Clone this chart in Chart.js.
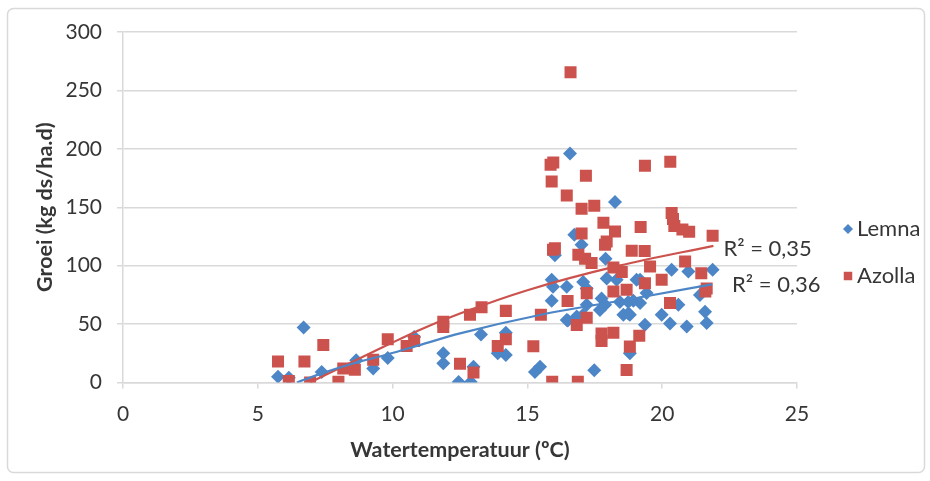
<!DOCTYPE html>
<html>
<head>
<meta charset="utf-8">
<script src="https://cdn.jsdelivr.net/npm/chart.js@4.4.0/dist/chart.umd.min.js"></script>
<style>
  html, body { margin: 0; padding: 0; background: #ffffff; }
  #wrap { width: 930px; height: 481px; position: relative; }
</style>
</head>
<body>
<div id="wrap"><canvas id="groeiChart"></canvas></div>
<script>
// Lemna measurements (water temperature in ºC, growth in kg ds/ha.d)
const lemnaTemp = [
  5.75, 6.15, 6.7, 7.37, 8.65, 9.28, 9.82, 10.8, 11.88, 11.88,
  12.45, 12.9, 13.0, 13.28, 13.9, 14.2, 14.2, 15.28, 15.47, 17.48,
  15.9, 15.95, 15.9, 16.46, 16.5, 17.07, 17.2, 17.9, 17.94, 18.31,
  19.05, 17.2, 17.75, 17.88, 17.69, 18.43, 18.74, 18.56, 18.74, 16.46,
  17.07, 20.35, 20.97, 21.87, 19.18, 19.42, 18.93, 19.18, 20.6, 19.98,
  19.36, 20.29, 20.91, 21.59, 21.65, 21.4, 18.8, 18.8, 16.58, 18.25,
  16.74, 17.01, 16.02, 16.83
];
const lemnaGroei = [
  5, 4, 47, 9, 19, 12, 21, 39, 25, 16.5,
  0.5, 0.5, 13.5, 41, 25, 23.5, 42.5, 9, 13.5, 10.5,
  88, 82, 70, 82, 53, 86, 80.5, 106, 89, 88,
  88, 66.5, 72, 66.5, 62, 69, 69, 58, 59, 53.5,
  58, 96.5, 95, 96.5, 88, 76.5, 70, 68, 66.5, 58,
  49.5, 50.5, 48, 60.5, 51, 75, 58, 25, 196, 154.5,
  126.5, 118, 109, 56.5
];

// Azolla measurements
const azollaTemp = [
  5.75, 6.15, 6.73, 6.94, 7.43, 7.99, 8.17, 8.6, 9.28, 9.82,
  10.52, 10.8, 11.88, 11.88, 12.5, 12.87, 13.0, 13.3, 13.9, 14.2,
  14.2, 15.22, 15.5, 15.92, 16.87, 15.95, 16.02, 16.89, 17.14, 17.38,
  16.49, 17.2, 17.2, 16.83, 17.75, 18.19, 17.75, 18.8, 19.15, 18.68,
  18.19, 18.5, 18.19, 18.68, 18.87, 19.35, 19.55, 19.36, 19.98, 20.29,
  20.85, 21.45, 21.65, 21.6, 16.6, 15.96, 15.86, 15.9, 17.17, 19.36,
  20.3, 16.46, 17.01, 17.48, 17.82, 19.2, 20.35, 20.4, 20.45, 20.75,
  21.0, 21.87, 17.01, 18.25, 17.94, 17.88
];
const azollaGroei = [
  18, 1.3, 18, 0, 32, 0.7, 12, 11, 19.5, 37,
  31.3, 35.5, 52, 47.5, 16, 58, 8.5, 64.5, 31.3, 37,
  61.3, 31, 58, 0.7, 0.7, 113.6, 115, 109.3, 106, 102.2,
  69.8, 76.5, 55.5, 49.3, 42, 42.5, 35.5, 30.7, 40, 10.7,
  98.5, 94.6, 77.8, 79.3, 112.8, 112.5, 99.3, 85, 87.9, 68,
  103.6, 93.6, 80.5, 77.8, 265.5, 188.4, 186.4, 172, 177, 185.5,
  189, 160, 148.7, 151.3, 136.8, 133, 145, 140, 134, 131,
  129, 125.6, 127.5, 129.3, 120.7, 117.9
];

// Trendlines
const lemnaTrendTemp = [6.45, 7.4, 8.5, 9.8, 11, 12.5, 15.5, 19.2, 21.85];
const lemnaTrendGroei = [0, 8, 16, 24, 32, 42, 58, 73, 84];
const azollaTrendTemp = [6.94, 8.0, 9.8, 11, 12.5, 15, 18.4, 21.9];
const azollaTrendGroei = [0, 12, 32, 45, 59, 79, 100, 117];

const seriesNames = ['Lemna', 'Azolla'];
const rSquaredLabels = ['R² = 0,36', 'R² = 0,35'];

const xTicks = [0, 5, 10, 15, 20, 25];
const yTicks = [0, 50, 100, 150, 200, 250, 300];

const blue = '#4d86c6';
const red = '#cc524e';
const textColor = '#363636';
const gridColor = '#d9d9d9';
const fontFamily = 'Lato, "Open Sans", sans-serif';

function toPoints(xs, ys) {
  return xs.map((x, i) => ({ x: x, y: ys[i] }));
}

/**
 * Outer frame, legend and R² labels
 */
const decorPlugin = {
  id: 'decor',
  beforeDraw(chart) {
    const ctx = chart.ctx;
    ctx.save();
    ctx.fillStyle = '#ffffff';
    ctx.fillRect(0, 0, chart.width, chart.height);
    ctx.strokeStyle = gridColor;
    ctx.lineWidth = 1.5;
    ctx.beginPath();
    ctx.roundRect(7.5, 8.5, 917, 464, 6);
    ctx.stroke();
    ctx.restore();
  },
  afterDraw(chart) {
    const ctx = chart.ctx;
    const xs = chart.scales.x;
    const ys = chart.scales.y;
    ctx.save();
    ctx.font = '22px ' + fontFamily;
    ctx.fillStyle = textColor;
    ctx.textBaseline = 'middle';
    ctx.textAlign = 'left';

    // R² labels next to the trendline ends
    const lemnaEnd = lemnaTrendTemp.length - 1;
    const azollaEnd = azollaTrendTemp.length - 1;
    ctx.fillText(rSquaredLabels[0],
      xs.getPixelForValue(lemnaTrendTemp[lemnaEnd]) + 20,
      ys.getPixelForValue(lemnaTrendGroei[lemnaEnd]) + 1);
    ctx.fillText(rSquaredLabels[1],
      xs.getPixelForValue(azollaTrendTemp[azollaEnd]) + 10,
      ys.getPixelForValue(azollaTrendGroei[azollaEnd]) + 3);

    // Legend
    const legendX = chart.chartArea.right + 51;
    const legendY = [229, 276];
    const styles = [
      { pointStyle: 'rectRot', radius: 5, rotation: 0, borderWidth: 0 },
      { pointStyle: 'rect', radius: 6, rotation: 0, borderWidth: 0 }
    ];
    const colors = [blue, red];
    for (let i = 0; i < seriesNames.length; i++) {
      ctx.fillStyle = colors[i];
      ctx.strokeStyle = colors[i];
      Chart.helpers.drawPoint(ctx, styles[i], legendX, legendY[i]);
      ctx.fillStyle = textColor;
      ctx.fillText(seriesNames[i], legendX + 9, legendY[i]);
    }
    ctx.restore();
  }
};

const ctx = document.getElementById('groeiChart');
new Chart(ctx, {
  type: 'scatter',
  data: {
    datasets: [
      {
        label: 'Lemna trend',
        data: toPoints(lemnaTrendTemp, lemnaTrendGroei),
        showLine: true,
        borderColor: blue,
        borderWidth: 2.2,
        pointRadius: 0,
        cubicInterpolationMode: 'monotone',
        order: 0
      },
      {
        label: 'Azolla trend',
        data: toPoints(azollaTrendTemp, azollaTrendGroei),
        showLine: true,
        borderColor: red,
        borderWidth: 2.2,
        pointRadius: 0,
        cubicInterpolationMode: 'monotone',
        order: 0
      },
      {
        label: seriesNames[1],
        data: toPoints(azollaTemp, azollaGroei),
        pointStyle: 'rect',
        pointRadius: 8.5,
        backgroundColor: red,
        borderColor: red,
        borderWidth: 0,
        order: 1
      },
      {
        label: seriesNames[0],
        data: toPoints(lemnaTemp, lemnaGroei),
        pointStyle: 'rectRot',
        pointRadius: 7,
        backgroundColor: blue,
        borderColor: blue,
        borderWidth: 0,
        order: 2
      }
    ]
  },
  options: {
    responsive: true,
    maintainAspectRatio: false,
    animation: false,
    layout: {
      padding: { left: 0, right: 133, top: 32, bottom: 8.5 }
    },
    plugins: {
      legend: { display: false },
      tooltip: { enabled: false }
    },
    scales: {
      x: {
        type: 'linear',
        min: xTicks[0],
        max: xTicks[xTicks.length - 1],
        afterBuildTicks: (scale) => { scale.ticks = xTicks.map(v => ({ value: v })); },
        afterFit: (scale) => { scale.height = 90; },
        grid: {
          drawOnChartArea: false,
          drawTicks: true,
          tickLength: 6,
          color: gridColor,
          lineWidth: 1.5
        },
        border: { color: gridColor, width: 1.5 },
        ticks: {
          color: textColor,
          padding: 13,
          font: { family: fontFamily, size: 21 }
        },
        title: {
          display: true,
          text: 'Watertemperatuur (ºC)',
          color: textColor,
          padding: { top: 0, bottom: 9.5 },
          font: { family: fontFamily, size: 21.5, weight: 'bold' }
        }
      },
      y: {
        type: 'linear',
        min: yTicks[0],
        max: yTicks[yTicks.length - 1],
        afterBuildTicks: (scale) => { scale.ticks = yTicks.map(v => ({ value: v })); },
        afterFit: (scale) => { scale.width = 123; },
        grid: {
          drawTicks: true,
          tickLength: 6,
          color: gridColor,
          lineWidth: 1.5
        },
        border: { color: gridColor, width: 1.5 },
        ticks: {
          color: textColor,
          padding: 15,
          font: { family: fontFamily, size: 21 }
        },
        title: {
          display: true,
          text: 'Groei (kg ds/ha.d)',
          color: textColor,
          padding: { top: 32, bottom: 0 },
          font: { family: fontFamily, size: 21.5, weight: 'bold' }
        }
      }
    }
  },
  plugins: [decorPlugin]
});
</script>
</body>
</html>
